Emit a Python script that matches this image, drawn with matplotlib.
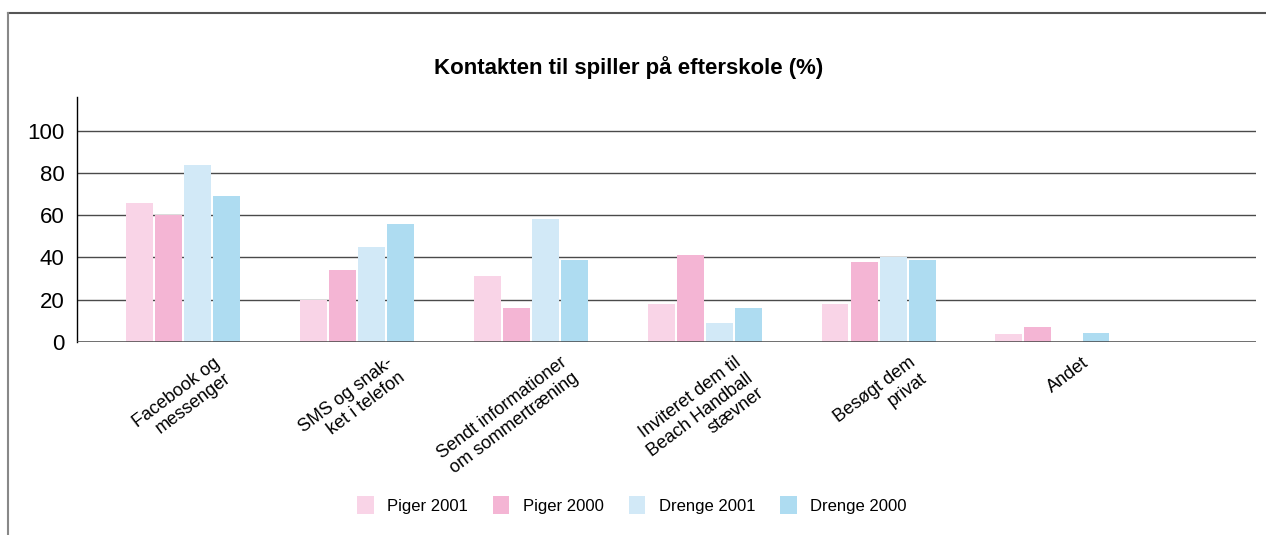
import matplotlib
matplotlib.use("Agg")
import matplotlib.pyplot as plt
import numpy as np
from matplotlib.lines import Line2D
from matplotlib.patches import Patch

# Data (%)
categories = [
    "Facebook og\nmessenger",
    "SMS og snak-\nket i telefon",
    "Sendt informationer\nom sommertræning",
    "Inviteret dem til\nBeach Handball\nstævner",
    "Besøgt dem\nprivat",
    "Andet",
]
series_names = ["Piger 2001", "Piger 2000", "Drenge 2001", "Drenge 2000"]
piger_2001 = [66, 20, 31, 18, 18, 3.5]
piger_2000 = [60, 34, 16, 41, 38, 7]
drenge_2001 = [84, 45, 58, 9, 40, 0]
drenge_2000 = [69, 56, 39, 16, 39, 4]
yticks = [0, 20, 40, 60, 80, 100]

colors = ["#F9D4E7", "#F4B5D4", "#D2E9F7", "#AEDCF1"]

plt.rcParams["font.family"] = ["Liberation Sans", "DejaVu Sans"]

fig = plt.figure(figsize=(12.66, 5.35), dpi=100)
ax = fig.add_axes([0.0608, 0.361, 0.9312, 0.4577])

x = np.arange(len(categories))
step = 0.167
width = 0.155
all_series = [piger_2001, piger_2000, drenge_2001, drenge_2000]
for i, (vals, col, name) in enumerate(zip(all_series, colors, series_names)):
    offs = (i - 1.5) * step
    ax.bar(x + offs, vals, width=width, color=col, label=name, zorder=3)

ax.set_xlim(-0.61, 6.17)
ax.set_ylim(0, 116)
ax.set_yticks(yticks)
ax.set_yticklabels([str(v) for v in yticks], fontsize=16)
ax.tick_params(axis="y", length=0, pad=9)
ax.set_xticks([])

for v in yticks[1:]:
    ax.axhline(v, color="#4a4a4a", lw=1.0, zorder=2)
ax.axhline(0, color="#444444", lw=1.8, zorder=4)

for s in ["top", "right", "bottom"]:
    ax.spines[s].set_visible(False)
ax.spines["left"].set_color("black")
ax.spines["left"].set_linewidth(1.0)

for xi, lab in zip(x, categories):
    ax.annotate(lab, xy=(xi + 0.17, 0), xycoords="data",
                xytext=(0, -9), textcoords="offset points",
                rotation=37, rotation_mode="anchor", ha="right", va="top",
                multialignment="right", fontsize=13, linespacing=1.15)

fig.text(0.4965, 0.873, "Kontakten til spiller på efterskole (%)",
         ha="center", va="center", fontsize=16, fontweight="bold")

handles = [Patch(facecolor=c, edgecolor="none") for c in colors]
fig.legend(handles, series_names, loc="center", bbox_to_anchor=(0.499, 0.056),
           ncol=4, frameon=False, fontsize=12, handlelength=1.0,
           handleheight=1.3, columnspacing=1.5, handletextpad=0.8)

# outer frame
fig.add_artist(Line2D([8 / 1266, 1.0], [1 - 13 / 535, 1 - 13 / 535],
                      transform=fig.transFigure, color="#555555", lw=1.5))
fig.add_artist(Line2D([8 / 1266, 8 / 1266], [0, 1 - 13 / 535],
                      transform=fig.transFigure, color="#888888", lw=1.5))

fig.savefig("out.png", dpi=100)
